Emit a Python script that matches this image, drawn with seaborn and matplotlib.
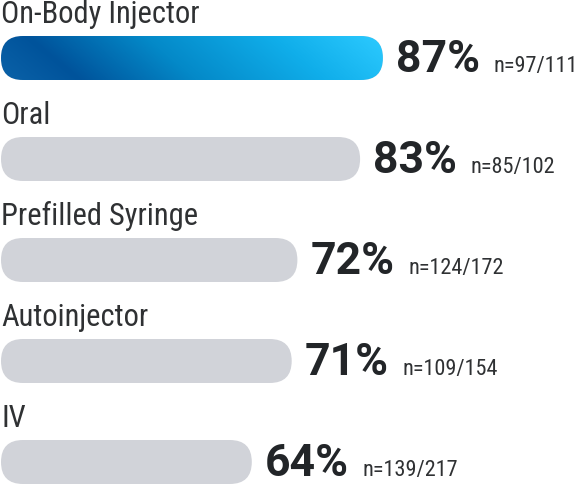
import matplotlib
matplotlib.use("Agg")
import matplotlib.pyplot as plt
from matplotlib.patches import FancyBboxPatch
from matplotlib.colors import LinearSegmentedColormap
import numpy as np
import seaborn as sns

# -------------------
# Data
# -------------------
methods = ["On-Body Injector", "Oral", "Prefilled Syringe", "Autoinjector", "IV"]
pct = [87, 83, 72, 71, 64]
n_labels = ["n=97/111", "n=85/102", "n=124/172", "n=109/154", "n=139/217"]

# -------------------
# Style
# -------------------
sns.set_theme(style="white")
NARROW = ["Liberation Sans Narrow", "Roboto Condensed", "Roboto", "DejaVu Sans"]
BOLD = ["Roboto", "DejaVu Sans"]
plt.rcParams["font.family"] = NARROW

GRAY = "#d1d3d9"
TXT = "#2f3133"
PCT_TXT = "#222528"
BASE = 20          # bars start here (axis is hidden)
PX_PER_X = 5.7     # pixels per percent point
ROW_PX = 101       # row spacing in pixels
FIRST_ROW_PX = 58  # centre of first bar in pixels
BAR_PX = 44        # bar thickness in pixels
W, H = 582, 484

fig = plt.figure(figsize=(W / 100, H / 100), dpi=100)
ax = fig.add_axes([0, 0, 1, 1])

sns.barplot(x=pct, y=methods, orient="h", color=GRAY, width=BAR_PX / ROW_PX,
            ax=ax, saturation=1)

x_lo = BASE - 1 / PX_PER_X
ax.set_xlim(x_lo, x_lo + W / PX_PER_X)
y_top = -FIRST_ROW_PX / ROW_PX
ax.set_ylim(y_top + H / ROW_PX, y_top)
ax.axis("off")

# replace the square bars by rounded ones
r_x = (BAR_PX / 2) / PX_PER_X * 0.999
aspect = PX_PER_X / ROW_PX

grad_cmap = LinearSegmentedColormap.from_list(
    "blue", [(0.0, "#0b62a8"), (0.18, "#00539b"), (0.45, "#0489c8"),
             (0.75, "#10aeea"), (1.0, "#2ccaff")])

bars = list(ax.patches)
for i, rect in enumerate(bars):
    y0, h, val = rect.get_y(), rect.get_height(), rect.get_width()
    rect.remove()
    fb = FancyBboxPatch((BASE, y0), val - BASE, h,
                        boxstyle=f"round,pad=0,rounding_size={r_x}",
                        mutation_aspect=aspect, linewidth=0,
                        facecolor=GRAY, zorder=2)
    ax.add_patch(fb)
    if i == 0:
        xs = np.linspace(0, 1, 300)
        ys = np.linspace(0, 1, 40)
        gx, gy = np.meshgrid(xs, ys)
        g = np.clip(gx * 0.88 + (1 - gy) * 0.12, 0, 1)
        im = ax.imshow(g, extent=(BASE, val, y0 + h, y0), origin="upper",
                       aspect="auto", cmap=grad_cmap, zorder=3,
                       interpolation="bilinear")
        im.set_clip_path(fb)

ax.set_xlim(x_lo, x_lo + W / PX_PER_X)
ax.set_ylim(y_top + H / ROW_PX, y_top)

# -------------------
# Text
# -------------------
for i, (m, p, n) in enumerate(zip(methods, pct, n_labels)):
    ax.text(BASE, i - 35 / ROW_PX, m, fontsize=22, color=TXT,
            va="baseline", ha="left")
    base_y = i + 14 / ROW_PX
    t = ax.annotate(f"{p}%", xy=(p, base_y), xytext=(13, 0),
                    textcoords="offset pixels", fontsize=32,
                    fontweight="bold", family=BOLD, color=PCT_TXT,
                    va="baseline", ha="left")
    ax.annotate(n, xy=(1, base_y), xycoords=(t, "data"), xytext=(14, 0),
                textcoords="offset pixels", fontsize=16, color=TXT,
                va="baseline", ha="left")

fig.savefig("out.png", dpi=100)
